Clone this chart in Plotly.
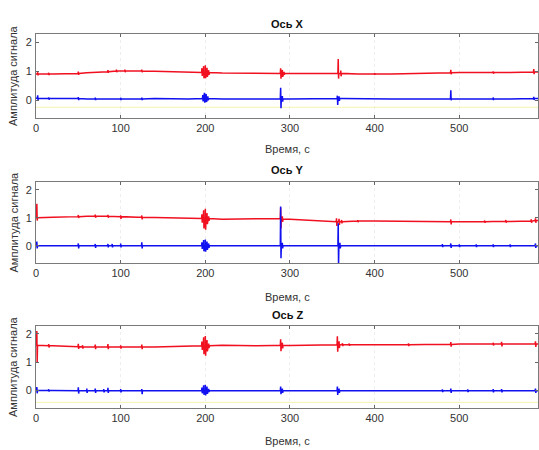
import plotly.graph_objects as go

# ---------------- data ----------------
base_t = [0, 20, 40, 60, 80, 100, 120, 140, 160, 180, 200, 220, 240, 260, 280, 300,
          320, 340, 360, 380, 400, 420, 440, 460, 480, 500, 520, 540, 560, 580, 593]

# Ось X
x_red_base = [0.90, 0.90, 0.92, 0.94, 0.98, 1.00, 1.00, 0.99, 0.97, 0.95, 0.95, 0.93, 0.92, 0.92, 0.92, 0.92,
              0.92, 0.93, 0.92, 0.90, 0.90, 0.90, 0.91, 0.92, 0.94, 0.95, 0.95, 0.95, 0.95, 0.96, 0.97]
x_blue_base = [0.06, 0.05, 0.05, 0.04, 0.04, 0.04, 0.04, 0.05, 0.04, 0.04, 0.05, 0.04, 0.04, 0.04, 0.04, 0.04,
               0.04, 0.04, 0.05, 0.04, 0.04, 0.04, 0.04, 0.04, 0.04, 0.04, 0.04, 0.04, 0.04, 0.04, 0.05]
x_red_spk_t = [2, 15, 50, 85, 95, 105, 125, 196, 198, 200, 202, 204, 289, 291, 293, 357, 360, 400, 490, 540, 588]
x_red_spk_up = [0.06, 0.04, 0.06, 0.05, 0.05, 0.05, 0.05, 0.15, 0.22, 0.25, 0.16, 0.08, 0.18, 0.12, 0.05, 0.50, 0.10, 0.03, 0.10, 0.04, 0.10]
x_red_spk_dn = [0.05, 0.04, 0.05, 0.04, 0.04, 0.04, 0.04, 0.12, 0.20, 0.20, 0.15, 0.08, 0.18, 0.12, 0.05, 0.18, 0.10, 0.03, 0.05, 0.04, 0.08]
x_blue_spk_t = [2, 15, 50, 70, 100, 125, 197, 199, 201, 203, 289, 291, 356, 358, 490, 540, 588]
x_blue_spk_up = [0.10, 0.04, 0.05, 0.04, 0.04, 0.04, 0.12, 0.20, 0.16, 0.08, 0.38, 0.10, 0.10, 0.08, 0.30, 0.05, 0.06]
x_blue_spk_dn = [0.06, 0.04, 0.05, 0.04, 0.04, 0.04, 0.10, 0.14, 0.12, 0.06, 0.32, 0.10, 0.22, 0.08, 0.05, 0.04, 0.05]

# Ось Y
y_red_base = [1.00, 1.02, 1.04, 1.05, 1.05, 1.04, 1.02, 1.01, 1.00, 0.99, 0.97, 0.95, 0.96, 0.97, 0.97, 0.95,
              0.92, 0.88, 0.86, 0.88, 0.88, 0.87, 0.87, 0.86, 0.86, 0.86, 0.86, 0.87, 0.87, 0.88, 0.90]
y_blue_base = [0.00, 0.00, 0.00, 0.00, 0.00, 0.00, 0.00, 0.00, 0.00, 0.00, 0.00, 0.00, 0.00, 0.00, 0.00, 0.00,
               0.00, 0.00, 0.00, 0.00, 0.00, 0.00, 0.00, 0.00, 0.00, 0.00, 0.00, 0.00, 0.00, 0.00, 0.00]
y_red_spk_t = [1, 50, 70, 85, 100, 125, 196, 198, 200, 202, 204, 289, 291, 355, 358, 361, 380, 490, 530, 555, 585, 590]
y_red_spk_up = [0.50, 0.06, 0.06, 0.05, 0.05, 0.06, 0.15, 0.30, 0.35, 0.20, 0.08, 0.40, 0.10, 0.12, 0.10, 0.06, 0.04, 0.08, 0.04, 0.05, 0.06, 0.08]
y_red_spk_dn = [0.10, 0.05, 0.05, 0.05, 0.08, 0.08, 0.15, 0.35, 0.40, 0.20, 0.08, 0.35, 0.10, 0.15, 0.12, 0.06, 0.04, 0.10, 0.04, 0.05, 0.06, 0.08]
y_blue_spk_t = [1, 50, 70, 85, 90, 100, 125, 196, 198, 200, 202, 204, 289, 291, 357, 359, 480, 490, 500, 520, 540, 560, 590]
y_blue_spk_up = [0.15, 0.08, 0.06, 0.06, 0.06, 0.08, 0.12, 0.12, 0.20, 0.22, 0.15, 0.08, 1.40, 0.10, 0.80, 0.10, 0.06, 0.08, 0.05, 0.05, 0.05, 0.05, 0.08]
y_blue_spk_dn = [0.10, 0.10, 0.08, 0.06, 0.06, 0.06, 0.10, 0.12, 0.20, 0.22, 0.15, 0.08, 0.45, 0.10, 0.70, 0.10, 0.05, 0.08, 0.05, 0.05, 0.05, 0.05, 0.08]

# Ось Z
z_red_base = [1.60, 1.58, 1.55, 1.54, 1.54, 1.54, 1.54, 1.54, 1.55, 1.56, 1.58, 1.60, 1.58, 1.58, 1.59, 1.59,
              1.60, 1.60, 1.62, 1.62, 1.62, 1.62, 1.62, 1.63, 1.63, 1.64, 1.64, 1.64, 1.64, 1.64, 1.64]
z_blue_base = [0.00, 0.00, -0.01, -0.01, -0.01, -0.01, -0.01, -0.01, -0.01, -0.01, 0.00, -0.01, -0.01, -0.01, -0.01, -0.01,
               -0.01, -0.01, -0.01, -0.01, -0.01, -0.01, -0.01, -0.01, -0.01, -0.01, -0.01, -0.01, -0.01, -0.01, -0.01]
z_red_spk_t = [1, 15, 50, 55, 70, 85, 100, 125, 196, 198, 200, 202, 204, 289, 291, 356, 358, 362, 370, 440, 490, 540, 550, 590]
z_red_spk_up = [0.50, 0.06, 0.10, 0.06, 0.08, 0.10, 0.06, 0.08, 0.15, 0.30, 0.35, 0.20, 0.08, 0.22, 0.10, 0.30, 0.12, 0.05, 0.04, 0.05, 0.08, 0.05, 0.08, 0.10]
z_red_spk_dn = [0.60, 0.06, 0.08, 0.06, 0.08, 0.08, 0.06, 0.08, 0.15, 0.30, 0.35, 0.20, 0.08, 0.20, 0.10, 0.25, 0.12, 0.05, 0.04, 0.05, 0.08, 0.05, 0.08, 0.10]
z_blue_spk_t = [1, 15, 50, 60, 70, 80, 85, 100, 125, 196, 198, 200, 202, 204, 289, 291, 356, 358, 480, 490, 510, 540, 550, 590]
z_blue_spk_up = [0.12, 0.04, 0.12, 0.08, 0.08, 0.06, 0.10, 0.06, 0.06, 0.10, 0.18, 0.20, 0.14, 0.06, 0.15, 0.08, 0.15, 0.08, 0.05, 0.08, 0.05, 0.06, 0.06, 0.08]
z_blue_spk_dn = [0.10, 0.04, 0.10, 0.08, 0.08, 0.06, 0.08, 0.06, 0.12, 0.10, 0.15, 0.18, 0.12, 0.06, 0.12, 0.08, 0.15, 0.08, 0.05, 0.08, 0.05, 0.06, 0.06, 0.08]

yellow_level = [-0.25, None, -0.42]

panel_titles = ["Ось X", "Ось Y", "Ось Z"]
x_label = "Время, с"
y_label = "Амплитуда сигнала"
x_ticks = [0, 100, 200, 300, 400, 500]
y_ticks = [0, 1, 2]


# ---------------- helpers ----------------
def build(bt, bv, st, su, sd):
    pts = list(zip(bt, bv))
    for t, u, d in zip(st, su, sd):
        i = min(range(len(bt)), key=lambda k: abs(bt[k] - t))
        b = bv[i]
        pts += [(t - 0.4, b), (t, b + u), (t + 0.4, b - d), (t + 0.8, b)]
    pts.sort(key=lambda p: p[0])
    return [p[0] for p in pts], [p[1] for p in pts]


panels = [
    (x_red_base, x_red_spk_t, x_red_spk_up, x_red_spk_dn, x_blue_base, x_blue_spk_t, x_blue_spk_up, x_blue_spk_dn),
    (y_red_base, y_red_spk_t, y_red_spk_up, y_red_spk_dn, y_blue_base, y_blue_spk_t, y_blue_spk_up, y_blue_spk_dn),
    (z_red_base, z_red_spk_t, z_red_spk_up, z_red_spk_dn, z_blue_base, z_blue_spk_t, z_blue_spk_up, z_blue_spk_dn),
]

H = 450.0
# pixel extents of each axes box (top, bottom)
boxes = [(34, 118), (182, 263), (326, 408)]
title_px = [24, 170, 315]
xlab_px = [149, 297, 441]

fig = go.Figure()
FONT = "Liberation Sans, Arial, sans-serif"

for k, p in enumerate(panels):
    xa = "x" if k == 0 else f"x{k+1}"
    ya = "y" if k == 0 else f"y{k+1}"
    rb, rt, ru, rd, bb, bt_, bu, bd = p
    if yellow_level[k] is not None:
        fig.add_trace(go.Scatter(x=[base_t[0], base_t[-1]], y=[yellow_level[k]] * 2, mode="lines",
                                 line=dict(color="rgba(235,235,120,0.6)", width=1),
                                 xaxis=xa, yaxis=ya, showlegend=False, hoverinfo="skip"))
    xr, yr = build(base_t, rb, rt, ru, rd)
    xb, yb = build(base_t, bb, bt_, bu, bd)
    fig.add_trace(go.Scatter(x=xr, y=yr, mode="lines", line=dict(color="#f01020", width=1.5),
                             xaxis=xa, yaxis=ya, showlegend=False))
    fig.add_trace(go.Scatter(x=xb, y=yb, mode="lines", line=dict(color="#1010f0", width=1.5),
                             xaxis=xa, yaxis=ya, showlegend=False))

    top, bot = boxes[k]
    dom = [1 - bot / H, 1 - top / H]
    xkey = "xaxis" if k == 0 else f"xaxis{k+1}"
    ykey = "yaxis" if k == 0 else f"yaxis{k+1}"
    fig.layout[xkey] = dict(domain=[0, 1], anchor=ya, range=[0, 593], tickvals=x_ticks,
                            ticks="inside", ticklen=3, tickcolor="#666", mirror="ticks",
                            showline=True, linecolor="#7a7a7a", linewidth=1,
                            showgrid=True, gridcolor="#eeeeee", griddash="dot", zeroline=False,
                            tickfont=dict(family=FONT, size=11, color="#333"))
    fig.layout[ykey] = dict(domain=dom, anchor=xa, range=[-0.62, 2.28], tickvals=y_ticks,
                            ticks="inside", ticklen=3, tickcolor="#666", mirror="ticks",
                            showline=True, linecolor="#7a7a7a", linewidth=1,
                            showgrid=False, zeroline=False, ticklabelstandoff=1,
                            tickfont=dict(family=FONT, size=11, color="#333"))

    fig.add_annotation(text=f"<b>{panel_titles[k]}</b>", xref="paper", yref="paper",
                       x=0.5, y=1 - title_px[k] / H, showarrow=False,
                       font=dict(family=FONT, size=11, color="#111"), xanchor="center", yanchor="middle")
    fig.add_annotation(text=x_label, xref="paper", yref="paper",
                       x=0.5, y=1 - xlab_px[k] / H, showarrow=False,
                       font=dict(family=FONT, size=11, color="#333"), xanchor="center", yanchor="middle")
    fig.add_annotation(text=y_label, xref="paper", yref="paper", textangle=-90,
                       x=(13 - 36) / 502.0, y=1 - (top + bot) / 2 / H, showarrow=False,
                       font=dict(family=FONT, size=11, color="#333"), xanchor="center", yanchor="middle")

fig.update_layout(width=539, height=450, margin=dict(l=36, r=1, t=0, b=0),
                  paper_bgcolor="white", plot_bgcolor="white", showlegend=False)

fig.write_html("out.html", config={"displayModeBar": False},
               post_script="document.body.style.margin='0';document.body.style.overflow='hidden';")
